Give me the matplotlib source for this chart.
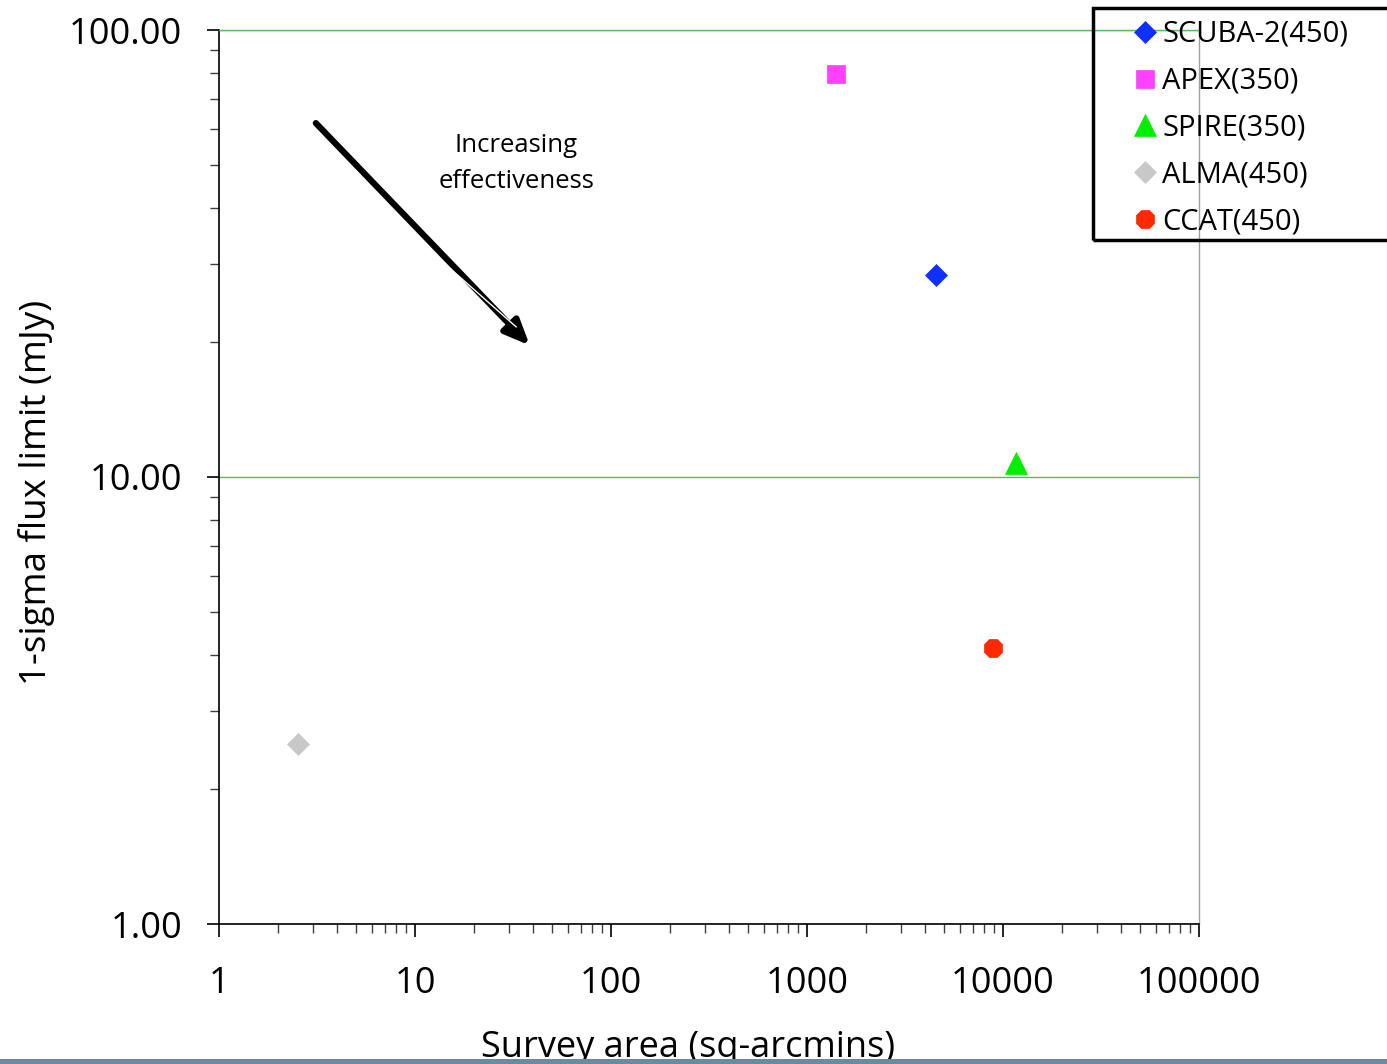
import matplotlib
matplotlib.use('Agg')
import matplotlib.pyplot as plt
from matplotlib.ticker import FixedLocator, FixedFormatter, LogLocator, NullFormatter
from matplotlib.patches import Rectangle
import matplotlib.transforms as mtransforms

# ---------------- data ----------------
instruments = ['SCUBA-2(450)', 'APEX(350)', 'SPIRE(350)', 'ALMA(450)', 'CCAT(450)']
survey_area = [4550, 1410, 11650, 2.53, 8900]
flux_limit = [28.3, 79.7, 10.75, 2.53, 4.14]
markers = ['D', 's', '^', 'D', '8']
colors = ['#1030ff', '#ff40ff', '#00ee00', '#c8c8c8', '#ff2a00']
sizes = [11.2, 13.2, 16.5, 11.2, 14.5]

x_ticks = [1, 10, 100, 1000, 10000, 100000]
x_tick_labels = ['1', '10', '100', '1000', '10000', '100000']
y_ticks = [1, 10, 100]
y_tick_labels = ['1.00', '10.00', '100.00']

arrow_start = (3.12, 61.9)
arrow_end = (38.5, 19.7)
annotation_text = 'Increasing\neffectiveness'
annotation_pos = (32.8, 50.3)

# ---------------- figure ----------------
plt.rcParams['font.family'] = ['Open Sans', 'DejaVu Sans']
W, H = 1387, 1064
fig = plt.figure(figsize=(W / 100, H / 100), dpi=100)
fig.patch.set_facecolor('white')

ax = fig.add_axes([219 / W, 1 - 924 / H, (1199 - 219) / W, (924 - 30) / H])
ax.set_xscale('log')
ax.set_yscale('log')
ax.set_xlim(1, 1e5)
ax.set_ylim(1, 100)

green = '#5cb85c'
ax.yaxis.grid(True, which='major', color=green, lw=1.0)
ax.set_axisbelow(True)
for s in ['left', 'bottom']:
    ax.spines[s].set_color('black')
    ax.spines[s].set_linewidth(1.2)
ax.spines['right'].set_color('#a0a0a0')
ax.spines['right'].set_linewidth(1.0)
ax.spines['top'].set_color(green)
ax.spines['top'].set_linewidth(1.0)

ax.xaxis.set_major_locator(FixedLocator(x_ticks))
ax.xaxis.set_major_formatter(FixedFormatter(x_tick_labels))
ax.yaxis.set_major_locator(FixedLocator(y_ticks))
ax.yaxis.set_major_formatter(FixedFormatter(y_tick_labels))
ax.xaxis.set_minor_locator(LogLocator(base=10, subs=range(2, 10), numticks=20))
ax.yaxis.set_minor_locator(LogLocator(base=10, subs=range(2, 10), numticks=20))
ax.xaxis.set_minor_formatter(NullFormatter())
ax.yaxis.set_minor_formatter(NullFormatter())

ax.tick_params(axis='x', which='major', direction='out', length=9.4, width=1.2,
               labelsize=26, pad=21, colors='black')
ax.tick_params(axis='x', which='minor', direction='out', length=6.5, width=1.0, color='#404040')
ax.tick_params(axis='y', which='major', direction='out', length=8.6, width=1.2,
               labelsize=26, pad=18, colors='black')
ax.tick_params(axis='y', which='minor', direction='out', length=6.5, width=1.0, color='#404040')

handles = []
for name, xv, yv, m, c, ms in zip(instruments, survey_area, flux_limit, markers, colors, sizes):
    h, = ax.plot([xv], [yv], linestyle='none', marker=m, markersize=ms,
                 markerfacecolor=c, markeredgecolor=c, markeredgewidth=0.5,
                 label=name, clip_on=False, zorder=5)
    handles.append(h)

# arrow
ax.annotate('', xy=arrow_end, xytext=arrow_start,
            arrowprops=dict(arrowstyle='-|>,head_length=1.5,head_width=0.65',
                            color='black', lw=4.5, shrinkA=0, shrinkB=0), zorder=4)
off = mtransforms.offset_copy(ax.transData, fig=fig, x=1.3, y=-1.6, units='dots')
ax.plot([6.0, 32.5], [42.0, 21.8], color='white', lw=1.0, transform=off, zorder=4.5,
        solid_capstyle='butt')

ax.text(annotation_pos[0], annotation_pos[1], annotation_text, ha='center', va='center',
        fontsize=18.5, linespacing=1.62, color='black')

# axis labels
fig.text(37 / W, 1 - 492 / H, '1-sigma flux limit (mJy)', rotation=90, ha='center',
         va='center', fontsize=26.5)
fig.text(688 / W, 1 - 1057 / H, 'Survey area (sq-arcmins)', ha='center',
         va='baseline', fontsize=26, zorder=1)

# legend
leg = ax.legend(handles=handles, loc='upper left',
                bbox_to_anchor=(1127 / W, 1 - 20 / H), bbox_transform=fig.transFigure,
                frameon=False, fontsize=21, handlelength=1.2, handletextpad=0.0,
                labelspacing=0.61, borderpad=0, borderaxespad=0, numpoints=1)
fig.patches.append(Rectangle((1093 / W, 1 - 240 / H), (1400 - 1093) / W, (240 - 8) / H,
                             transform=fig.transFigure, fill=False, edgecolor='black',
                             lw=2.5, zorder=6))

# bottom strip
fig.patches.append(Rectangle((0, 0), 1, 5 / H, transform=fig.transFigure,
                             facecolor='#6a8aa2', edgecolor='none', zorder=10))

fig.savefig('out.png', dpi=100)
